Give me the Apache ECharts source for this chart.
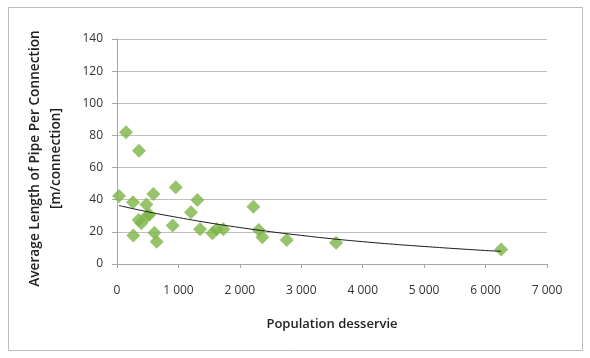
<!DOCTYPE html>
<html>
<head>
<meta charset="utf-8">
<script src="https://cdn.jsdelivr.net/npm/echarts@6/dist/echarts.min.js"></script>
<style>
html,body{margin:0;padding:0;background:#fff;}
#chart{width:590px;height:358px;}
</style>
</head>
<body>
<div id="chart"></div>
<script>
// Scatter data: population served vs average length of pipe per connection
const population = [33, 147, 358, 261, 266, 478, 353, 396, 489, 526, 592, 608, 646, 956, 907, 1205, 1308, 1352, 1553, 1623, 1731, 2220, 2307, 2366, 2763, 3567, 6254];
const pipeLength = [42.3, 82, 70.5, 38.4, 17.8, 37.1, 27.4, 25.3, 29.9, 30.7, 43.6, 19.5, 13.9, 47.7, 23.9, 32.2, 39.8, 21.6, 19.1, 21.6, 21.6, 35.7, 21.2, 16.6, 14.9, 13.3, 9.1];
// Trend line
const trendX = [30, 500, 1000, 1500, 2000, 2500, 3000, 3500, 4000, 4500, 5000, 5500, 6000, 6254];
const trendY = [36.4, 32.5, 28.9, 25.6, 22.7, 20.1, 17.8, 15.7, 13.9, 12.3, 10.9, 9.6, 8.4, 7.9];
const xTicks = [0, 1000, 2000, 3000, 4000, 5000, 6000, 7000];
const yTicks = [0, 20, 40, 60, 80, 100, 120, 140];

const chart = echarts.init(document.getElementById('chart'), null, {renderer: 'canvas'});
const font = "'Open Sans', 'Noto Sans', sans-serif";
const fmt = v => { const s = String(v); return s.length > 3 ? s.slice(0, s.length - 3) + ' ' + s.slice(-3) : s; };
chart.setOption({
  animation: false,
  backgroundColor: '#fff',
  graphic: [{
    type: 'rect', shape: {x: 8.5, y: 7.5, width: 574, height: 343},
    style: {fill: 'none', stroke: '#bdbdbd', lineWidth: 1}, silent: true
  }],
  grid: {left: 117, right: 43, top: 39, bottom: 94},
  xAxis: {
    type: 'value', min: xTicks[0], max: xTicks[xTicks.length - 1], interval: 1000,
    name: 'Population desservie', nameLocation: 'middle', nameGap: 54,
    nameTextStyle: {fontFamily: font, fontSize: 13, fontWeight: 600, color: '#222'},
    axisLine: {show: true, lineStyle: {color: '#a6a6a6', width: 1}},
    axisTick: {show: true, length: 4, lineStyle: {color: '#a6a6a6'}},
    axisLabel: {fontFamily: font, fontSize: 12, color: '#333', margin: 21, formatter: fmt},
    splitLine: {show: false}
  },
  yAxis: {
    type: 'value', min: yTicks[0], max: yTicks[yTicks.length - 1], interval: 20,
    name: 'Average Length of Pipe Per Connection\n[m/connection]', nameLocation: 'middle', nameGap: 50, nameRotate: 90,
    nameTextStyle: {fontFamily: font, fontSize: 13.7, fontWeight: 600, color: '#222', lineHeight: 21, padding: [0, 14, 0, 0]},
    axisLine: {show: true, lineStyle: {color: '#a6a6a6', width: 1}},
    axisTick: {show: true, length: 5, lineStyle: {color: '#a6a6a6'}},
    axisLabel: {fontFamily: font, fontSize: 12, color: '#333', margin: 14},
    splitLine: {show: true, lineStyle: {color: '#bfbfbf', width: 1}}
  },
  series: [{
    type: 'line', data: trendX.map((x, i) => [x, trendY[i]]), smooth: true, symbol: 'none',
    lineStyle: {color: '#1a1a1a', width: 1}, z: 3
  }, {
    type: 'scatter', data: population.map((x, i) => [x, pipeLength[i]]),
    symbol: 'diamond', symbolSize: 14, itemStyle: {color: '#7db446'}, z: 2
  }]
});
</script>
</body>
</html>
